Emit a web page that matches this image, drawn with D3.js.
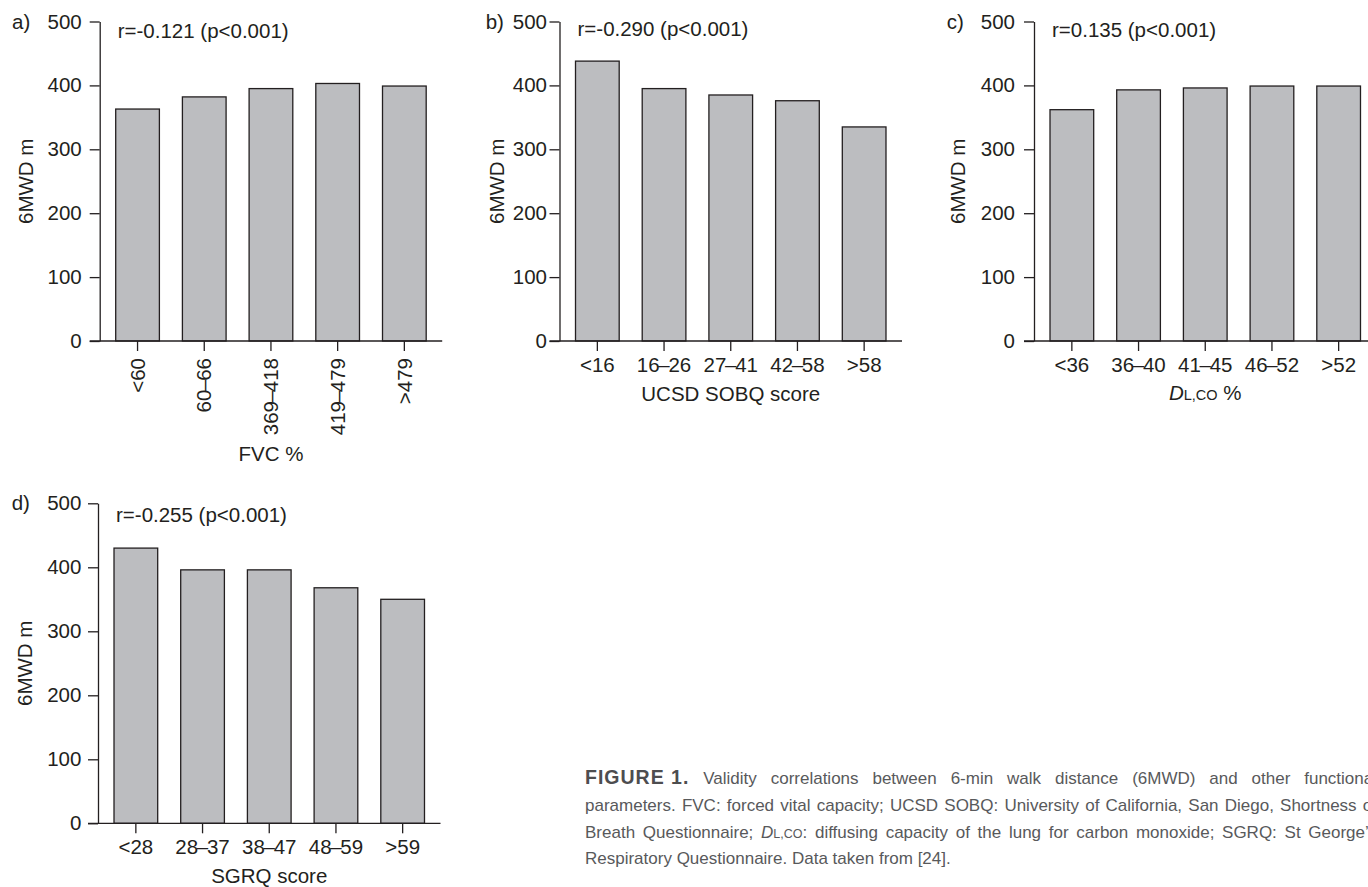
<!DOCTYPE html>
<html><head><meta charset="utf-8">
<script src="https://cdn.jsdelivr.net/npm/d3@7"></script>
<style>
html,body{margin:0;padding:0;background:#fff;overflow:hidden}
svg{display:block}
text{font-family:"Liberation Sans",Arial,Helvetica,sans-serif;fill:#231f20}
</style></head><body>
<svg id="chart" width="1368" height="887"></svg>
<script>
// ---------- data ----------
const yTickValues = [0, 100, 200, 300, 400, 500];
const fvcCategories = ["<60", "60–66", "369–418", "419–479", ">479"];
const fvcValues = [363, 382, 395, 403, 399];
const sobqCategories = ["<16", "16–26", "27–41", "42–58", ">58"];
const sobqValues = [438, 395, 385, 376, 335];
const dlcoCategories = ["<36", "36–40", "41–45", "46–52", ">52"];
const dlcoValues = [362, 393, 396, 399, 399];
const sgrqCategories = ["<28", "28–37", "38–47", "48–59", ">59"];
const sgrqValues = [430, 396, 396, 368, 350];
const panelLetters = ["a)", "b)", "c)", "d)"];
const correlationLabels = ["r=-0.121 (p<0.001)", "r=-0.290 (p<0.001)", "r=0.135 (p<0.001)", "r=-0.255 (p<0.001)"];
const yAxisTitle = "6MWD m";
const xAxisTitles = ["FVC %", "UCSD SOBQ score", null, "SGRQ score"]; // c) built with italic/small parts

// ---------- layout ----------
const layout = [
  {axisX: 99.7, y0: 341, y1: 21.5, labGap: 8,   yTitleDx: -67, xTitleY: 460.7, letterX: 12,    rDy: 16, rotate: true},
  {axisX: 559.5, y0: 341, y1: 21.5, labGap: 2.5, yTitleDx: -56, xTitleY: 401,   letterX: 485.7, rDy: 14, rotate: false},
  {axisX: 1034, y0: 341, y1: 21.5, labGap: 9,   yTitleDx: -69, xTitleY: 400,   letterX: 946.7, rDy: 15, rotate: false},
  {axisX: 98,   y0: 823.3, y1: 503.3, labGap: 6.6, yTitleDx: -66, xTitleY: 882.7, letterX: 11.7, rDy: 19, rotate: false}
];
const cats = [fvcCategories, sobqCategories, dlcoCategories, sgrqCategories];
const vals = [fvcValues, sobqValues, dlcoValues, sgrqValues];

const FS = 20.5, INK = "#231f20", SW = 1.3;
const svg = d3.select("#chart");

// tighten the en dash slightly, like the original typesetting
function tightDash(sel) {
  sel.each(function () {
    const t = d3.select(this), s = t.text();
    if (s.indexOf("–") < 0) return;
    const [a, b] = s.split("–");
    t.text(null);
    t.append("tspan").text(a);
    t.append("tspan").attr("dx", -1.3).text("–");
    t.append("tspan").attr("dx", -1.3).text(b);
  });
}

layout.forEach((L, i) => {
  const g = svg.append("g");
  const y = d3.scaleLinear().domain([0, 500]).range([L.y0, L.y1]);
  const x = d3.scaleBand().domain(cats[i]).range([L.axisX, L.axisX + 342.5])
    .paddingInner(0.345).paddingOuter(0.24);

  // bars
  g.selectAll("rect.bar").data(vals[i]).join("rect").attr("class", "bar")
    .attr("x", (d, j) => x(cats[i][j]))
    .attr("width", x.bandwidth())
    .attr("y", d => y(d))
    .attr("height", d => y(0) - y(d))
    .attr("fill", "#bcbdc0").attr("stroke", INK).attr("stroke-width", SW);

  // y axis
  const ya = g.append("g").attr("transform", `translate(${L.axisX},0)`)
    .call(d3.axisLeft(y).tickValues(yTickValues).tickSize(10).tickSizeOuter(0).tickPadding(L.labGap));
  ya.select(".domain").attr("stroke", INK).attr("stroke-width", SW);
  ya.selectAll(".tick line").attr("stroke", INK).attr("stroke-width", SW);
  ya.selectAll(".tick text").attr("font-size", FS).attr("font-family", null).style("fill", INK);

  // x axis
  const xa = g.append("g").attr("transform", `translate(0,${L.y0})`)
    .call(d3.axisBottom(x).tickSize(10).tickSizeOuter(0).tickPadding(6));
  xa.select(".domain").remove();
  xa.selectAll(".tick line").attr("stroke", INK).attr("stroke-width", SW);
  xa.selectAll(".tick text").attr("font-size", FS).attr("font-family", null).style("fill", INK);
  if (L.rotate) {
    xa.selectAll(".tick text").attr("transform", "rotate(-90)")
      .attr("x", -17).attr("y", 0).attr("dy", "0.35em").attr("text-anchor", "end");
  }
  tightDash(xa.selectAll(".tick text"));
  g.append("line").attr("x1", L.axisX - 10).attr("x2", x.range()[1])
    .attr("y1", L.y0).attr("y2", L.y0).attr("stroke", INK).attr("stroke-width", SW);

  // y title
  const midY = (L.y0 + L.y1) / 2;
  g.append("text").attr("transform", `translate(${L.axisX + L.yTitleDx},${midY}) rotate(-90)`)
    .attr("text-anchor", "middle").attr("font-size", FS).text(yAxisTitle);

  // x title
  const cx = x(cats[i][2]) + x.bandwidth() / 2;
  const xt = g.append("text").attr("x", cx).attr("y", L.xTitleY).attr("text-anchor", "middle").attr("font-size", FS);
  if (xAxisTitles[i]) xt.text(xAxisTitles[i]);
  else {
    xt.append("tspan").attr("font-style", "italic").text("D");
    xt.append("tspan").attr("font-size", 14.5).text("L,CO");
    xt.append("tspan").text(" %");
  }

  // panel letter
  g.append("text").attr("x", L.letterX).attr("y", L.y1).attr("dy", "0.35em").attr("font-size", FS).text(panelLetters[i]);

  // correlation text
  g.append("text").attr("x", L.axisX + 18).attr("y", L.y1 + L.rDy).attr("font-size", FS).text(correlationLabels[i]);
});

// ---------- caption ----------
const capL = 585, capR = 1377, capFS = 17, capCol = "#58595b";
const captionBaselines = [784, 810.7, 837.5, 864.3];
const w = t => [{t}];
const captionLines = [
  [[{t: "FIGURE 1.", fig: true}], ..."Validity correlations between 6-min walk distance (6MWD) and other functional".split(" ").map(w)],
  "parameters. FVC: forced vital capacity; UCSD SOBQ: University of California, San Diego, Shortness of".split(" ").map(w),
  [...["Breath", "Questionnaire;"].map(w), [{t: "D", it: true}, {t: "L,CO", sm: true}, {t: ":"}],
   ..."diffusing capacity of the lung for carbon monoxide; SGRQ: St George’s".split(" ").map(w)],
  "Respiratory Questionnaire. Data taken from [24].".split(" ").map(w)
];
captionLines.forEach((words, li) => {
  const nodes = words.map(segs => {
    const t = svg.append("text").attr("y", captionBaselines[li]).attr("font-size", capFS).style("fill", capCol);
    segs.forEach(s => {
      const sp = t.append("tspan").text(s.t);
      if (s.fig) sp.attr("font-weight", "900").attr("font-size", 19.5).attr("letter-spacing", 1).style("fill", "#4d4d4f");
      if (s.it) sp.attr("font-style", "italic");
      if (s.sm) sp.attr("font-size", 12.5);
    });
    return t;
  });
  const widths = nodes.map(n => n.node().getComputedTextLength());
  const total = d3.sum(widths);
  const justify = li < captionLines.length - 1;
  const gap = justify ? (capR - capL - total) / (nodes.length - 1) : capFS * 0.278;
  let xx = capL;
  nodes.forEach((n, k) => { n.attr("x", xx); xx += widths[k] + gap; });
});
</script>
</body></html>
